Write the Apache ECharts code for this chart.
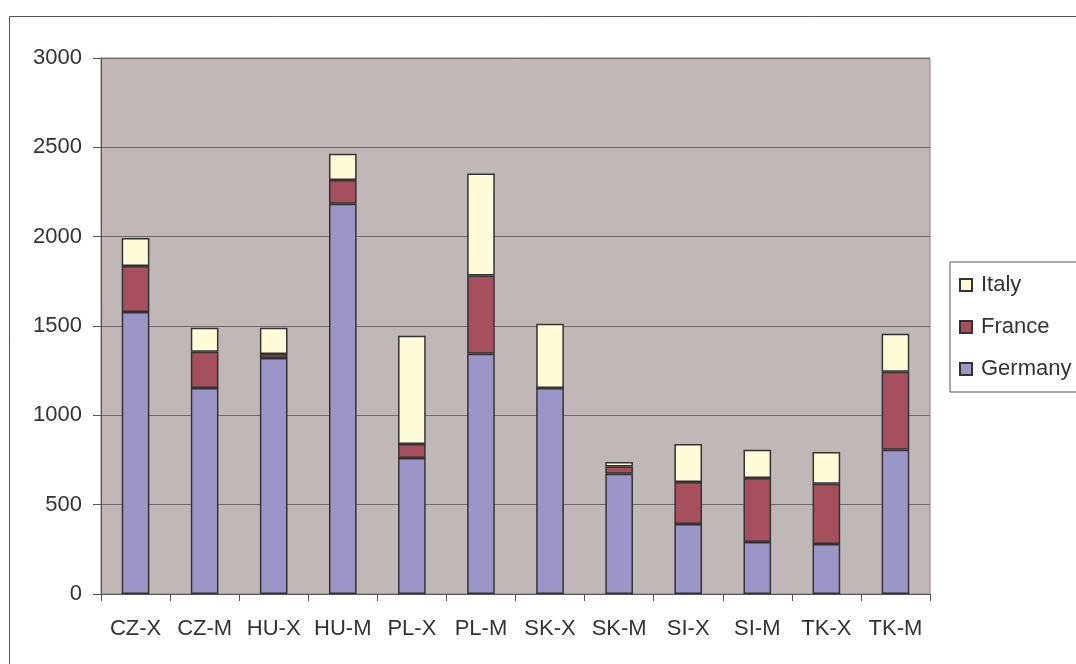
<!DOCTYPE html>
<html>
<head>
<meta charset="utf-8">
<script src="https://cdn.jsdelivr.net/npm/echarts@6/dist/echarts.min.js"></script>
<style>
	html, body { margin: 0; padding: 0; background: #fff; }
	#chart { width: 1076px; height: 664px; }
</style>
</head>
<body>
<div id="chart"></div>
<script>
	// categories and stacked values
	const categories = ['CZ-X', 'CZ-M', 'HU-X', 'HU-M', 'PL-X', 'PL-M', 'SK-X', 'SK-M', 'SI-X', 'SI-M', 'TK-X', 'TK-M']
	const germany = [1578, 1153, 1321, 2184, 761, 1345, 1153, 673, 392, 291, 280, 808]
	const france = [258, 203, 22, 133, 79, 437, 0, 40, 235, 358, 337, 436]
	const italy = [156, 134, 147, 147, 606, 571, 360, 26, 213, 159, 178, 213]
	const yTicks = [0, 500, 1000, 1500, 2000, 2500, 3000]

	const font = 'Liberation Sans, Arial, sans-serif'
	const myChart = echarts.init(document.getElementById('chart'))

	const barStyle = (color) => ({
		color: color,
		borderColor: '#333333',
		borderWidth: 1.5
	})

	const option = {
		animation: false,
		textStyle: {
			fontFamily: font,
			color: '#333'
		},
		graphic: [{
			type: 'rect',
			shape: { x: 9.5, y: 16.5, width: 1200, height: 800 },
			style: { fill: 'none', stroke: '#555', lineWidth: 1 },
			silent: true,
			z: -10
		}],
		grid: {
			left: 101,
			right: 146,
			top: 58,
			bottom: 70,
			show: true,
			backgroundColor: '#C0B8B6',
			borderColor: '#8a8080',
			borderWidth: 1
		},
		legend: {
			orient: 'vertical',
			left: 950,
			top: 262,
			padding: [12, 30, 12, 9],
			itemWidth: 12,
			itemHeight: 12,
			itemGap: 20,
			icon: 'rect',
			borderColor: '#555',
			borderWidth: 1,
			backgroundColor: '#fff',
			data: ['Italy', 'France', 'Germany'],
			textStyle: {
				fontFamily: font,
				fontSize: 22,
				lineHeight: 22,
				color: '#333',
				padding: [0, 0, 0, 4]
			}
		},
		xAxis: {
			type: 'category',
			data: categories,
			axisLine: { lineStyle: { color: '#555', width: 1 } },
			axisTick: { show: true, length: 7, interval: 0, lineStyle: { color: '#555' } },
			axisLabel: { fontFamily: font, fontSize: 22, color: '#333', margin: 24, interval: 0 }
		},
		yAxis: {
			type: 'value',
			min: yTicks[0],
			max: yTicks[yTicks.length - 1],
			interval: 500,
			axisLine: { show: true, lineStyle: { color: '#555', width: 1 } },
			axisTick: { show: true, length: 8, lineStyle: { color: '#555' } },
			axisLabel: {
				fontFamily: font, fontSize: 22, color: '#333', margin: 19,
				formatter: (v) => String(v)
			},
			splitLine: { show: true, lineStyle: { color: '#6e6868', width: 1.2 } }
		},
		series: [{
			name: 'Germany',
			type: 'bar',
			stack: 'total',
			barWidth: '40%',
			itemStyle: barStyle('#9C95C8'),
			data: germany
		}, {
			name: 'France',
			type: 'bar',
			stack: 'total',
			itemStyle: barStyle('#A5505C'),
			data: france
		}, {
			name: 'Italy',
			type: 'bar',
			stack: 'total',
			itemStyle: barStyle('#FFFBD6'),
			data: italy
		}]
	}

	myChart.setOption(option)
</script>
</body>
</html>
